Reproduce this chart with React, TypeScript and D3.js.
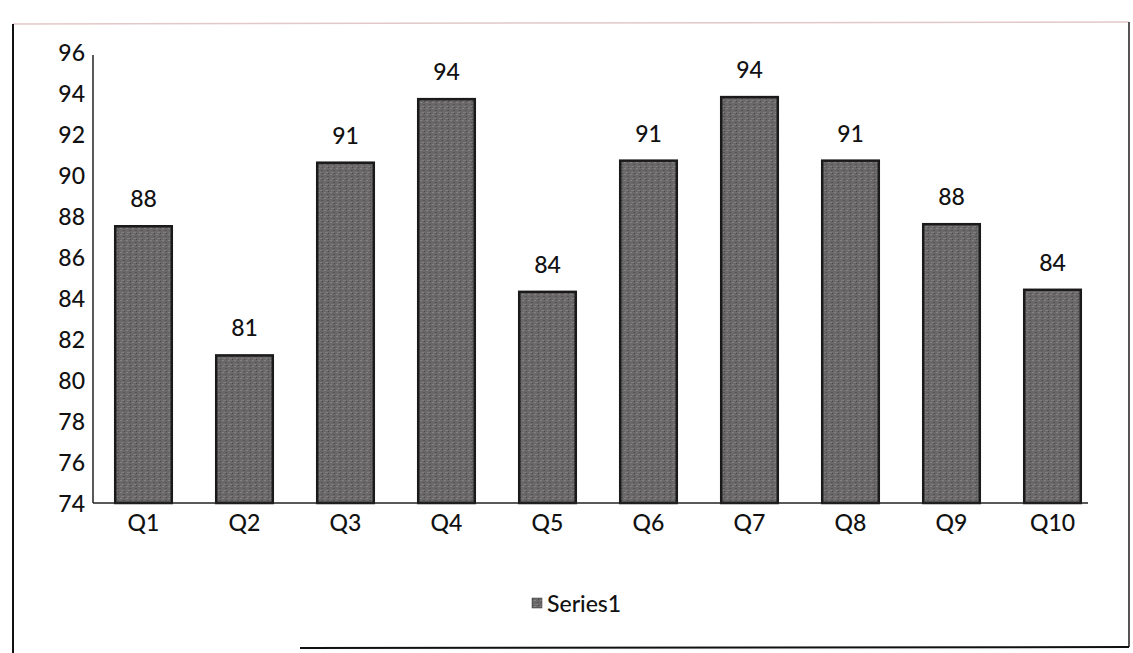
import React from "react";
import * as d3 from "d3";

const categories = ["Q1", "Q2", "Q3", "Q4", "Q5", "Q6", "Q7", "Q8", "Q9", "Q10"];
const series1 = [87.5, 81.2, 90.6, 93.7, 84.3, 90.7, 93.8, 90.7, 87.6, 84.4];
const dataLabels = ["88", "81", "91", "94", "84", "91", "94", "91", "88", "84"];
const yTicks = [74, 76, 78, 80, 82, 84, 86, 88, 90, 92, 94, 96];
const seriesName = "Series1";

const W = 1133;
const H = 653;
const FONT = "Lato, 'Open Sans', sans-serif";
const FS = 23;

export default function App() {
  const x = d3.scaleBand<string>().domain(categories).range([93, 1103]).paddingInner(0.44).paddingOuter(0.22);
  const y = d3.scaleLinear().domain([74, 96]).range([503, 52]);
  const base = y(74);

  return (
    <svg width={W} height={H} style={{ position: "absolute", left: 0, top: 0, background: "#fff" }}>
      <defs>
        <pattern id="tex" width="6" height="6" patternUnits="userSpaceOnUse">
          <rect width="6" height="6" fill="#6a6868" />
          <rect x="0" y="0" width="2" height="1" fill="#858383" />
          <rect x="3" y="2" width="2" height="1" fill="#555353" />
          <rect x="1" y="4" width="3" height="1" fill="#7d7b7b" />
          <rect x="4" y="5" width="1" height="1" fill="#4a4848" />
        </pattern>
      </defs>
      {/* frame */}
      <line x1={13} y1={24} x2={1129} y2={22} stroke="#e2c8c8" strokeWidth={1.5} />
      <line x1={13} y1={24} x2={13} y2={653} stroke="#111" strokeWidth={2} />
      <line x1={1129} y1={22} x2={1129} y2={647} stroke="#555" strokeWidth={2} />
      <line x1={300} y1={648} x2={1129} y2={647} stroke="#111" strokeWidth={2} />

      {/* y axis */}
      <line x1={93} y1={55} x2={93} y2={base} stroke="#222" strokeWidth={1.5} />
      {yTicks.map((t) => (
        <text key={t} x={85} y={y(t)} textAnchor="end" dominantBaseline="central" fontFamily={FONT} fontSize={FS} fontWeight={500} fill="#111">
          {t}
        </text>
      ))}

      {/* bars */}
      {categories.map((c, i) => {
        const bx = x(c)!;
        const by = y(series1[i]);
        return (
          <g key={c}>
            <rect x={bx} y={by} width={x.bandwidth()} height={base - by} fill="url(#tex)" stroke="#1a1a1a" strokeWidth={2.5} />
            <text x={bx + x.bandwidth() / 2} y={by - 28} textAnchor="middle" dominantBaseline="central" fontFamily={FONT} fontSize={FS} fontWeight={500} fill="#111">
              {dataLabels[i]}
            </text>
            <text x={bx + x.bandwidth() / 2} y={base + 19} textAnchor="middle" dominantBaseline="central" fontFamily={FONT} fontSize={FS} fontWeight={500} fill="#111">
              {c}
            </text>
          </g>
        );
      })}

      {/* x baseline */}
      <line x1={93} y1={base} x2={1088} y2={base} stroke="#222" strokeWidth={1.5} />

      {/* legend */}
      <rect x={532} y={598} width={10} height={10} fill="url(#tex)" stroke="#333" strokeWidth={0.5} />
      <text x={547} y={603} dominantBaseline="central" fontFamily={FONT} fontSize={FS} fontWeight={500} fill="#111">
        {seriesName}
      </text>
    </svg>
  );
}
